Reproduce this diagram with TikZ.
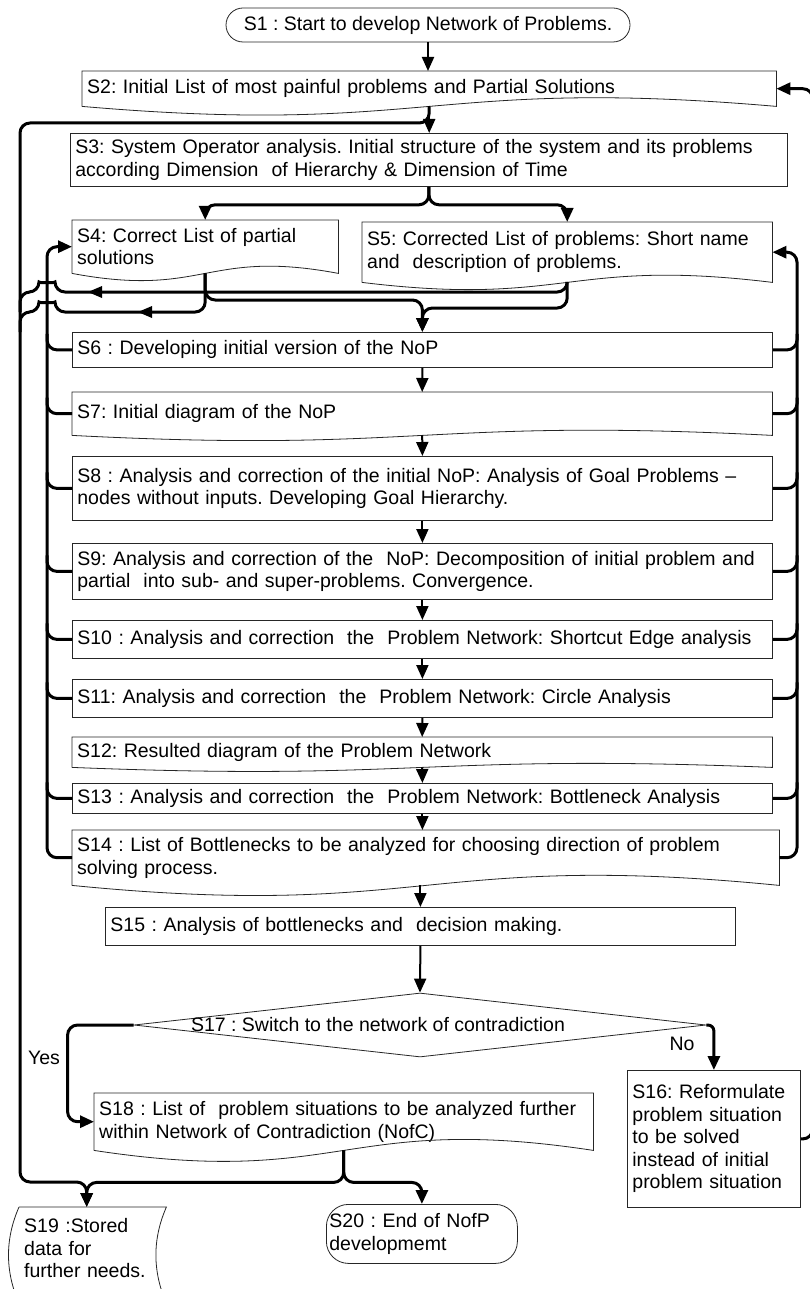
\documentclass[tikz,border=0pt]{standalone}
\usepackage{fontspec}
\setmainfont{Liberation Sans}
\usetikzlibrary{arrows.meta,calc,shapes.geometric}
\newcommand{\docshape}[2]{%
  \draw[boxline] (#1.south west) -- (#1.north west) -- (#1.north east) -- (#1.south east)
    .. controls ($(#1.south)+(0,-#2)$) and ($(#1.south)+(0,#2)$) .. (#1.south west);}
\newcommand{\tline}[1]{\mbox{#1}}
\begin{document}
\frenchspacing
\begin{tikzpicture}[x=1pt,y=-1pt,
  txt/.style={font=\fontsize{19.5pt}{22.5pt}\selectfont,execute at begin node={\frenchspacing}},
  boxline/.style={draw=black!85,line width=0.8pt},
  box/.style={txt,boxline,rectangle,anchor=north west,inner xsep=5pt,inner ysep=0pt,align=left},
  docbox/.style={txt,rectangle,anchor=north west,inner xsep=5pt,inner ysep=0pt,align=left},
  flow/.style={line width=2pt,-{Triangle[length=14pt,width=12pt]}},
  loop/.style={line width=3pt,rounded corners=10pt},
  loopar/.style={loop,-{Triangle[length=14pt,width=12pt]}}]
\useasboundingbox (0,0) rectangle (809,1289);
\fill[white] (0,0) rectangle (809,1289);

% ---------- nodes ----------
\node[txt,boxline,rounded corners=17pt,minimum width=404pt,minimum height=34pt,inner sep=0pt] (s1) at (428,25) {S1 : Start to develop Network of Problems.};
\node[docbox,text width=684pt,minimum height=35pt] (s2) at (82,71) {\tline{S2: Initial List of most painful problems and Partial Solutions}};
\docshape{s2}{30}
\node[box,text width=707pt,minimum height=53pt] (s3) at (70,133) {\tline{S3: System Operator analysis. Initial structure of the system and its problems}\\\tline{according Dimension~ of Hierarchy \& Dimension of Time}};
\node[docbox,text width=256pt,minimum height=53pt] (s4) at (72,220) {\tline{S4: Correct List of partial}\\solutions};
\docshape{s4}{25}
\node[docbox,text width=400pt,minimum height=60pt] (s5) at (362,222) {\tline{S5: Corrected List of problems: Short name}\\\tline{and~ description of problems.}};
\docshape{s5}{25}
\node[box,text width=690pt,minimum height=35pt] (s6) at (72,332) {\tline{S6 : Developing initial version of the NoP}};
\node[docbox,text width=690pt,minimum height=43pt] (s7) at (72,392) {\tline{S7: Initial diagram of the NoP}};
\docshape{s7}{18}
\node[box,text width=690pt,minimum height=64pt] (s8) at (72,456) {\tline{S8 : Analysis and correction of the initial NoP: Analysis of Goal Problems –}\\\tline{nodes without inputs. Developing Goal Hierarchy.}};
\node[box,text width=690pt,minimum height=56pt] (s9) at (72,543) {\tline{S9: Analysis and correction of the~ NoP: Decomposition of initial problem and}\\\tline{partial~ into sub- and super-problems. Convergence.}};
\node[box,text width=690pt,minimum height=38pt] (s10) at (72,620) {\tline{S10 : Analysis and correction~ the~ Problem Network: Shortcut Edge analysis}};
\node[box,text width=690pt,minimum height=38pt] (s11) at (72,679) {\tline{S11: Analysis and correction~ the~ Problem Network: Circle Analysis}};
\node[docbox,text width=690pt,minimum height=30pt] (s12) at (72,737) {\tline{S12: Resulted diagram of the Problem Network}};
\docshape{s12}{14}
\node[box,text width=690pt,minimum height=30pt] (s13) at (72,783) {\tline{S13 : Analysis and correction~ the~ Problem Network: Bottleneck Analysis}};
\node[docbox,text width=697pt,minimum height=55pt] (s14) at (72,830) {\tline{S14 : List of Bottlenecks to be analyzed for choosing direction of problem}\\\tline{solving process.}};
\docshape{s14}{35}
\node[box,text width=620pt,minimum height=38pt] (s15) at (105,907) {\tline{S15 : Analysis of bottlenecks and~ decision making.}};
\node[diamond,boxline,minimum width=572pt,minimum height=64pt,inner sep=0pt] (s17) at (420,1025) {};
\node[txt,inner sep=0pt] (s17t) at ($(s17.center)+(-42,0)$) {S17 : Switch to the network of contradiction};
\node[box,text width=163pt,minimum height=137pt] (s16) at (627,1070) {\tline{S16: Reformulate}\\\tline{problem situation}\\\tline{to be solved}\\\tline{instead of initial}\\\tline{problem situation}};
\node[docbox,text width=489pt,minimum height=57pt] (s18) at (94,1093) {\tline{S18 : List of~ problem situations to be analyzed further}\\\tline{within Network of Contradiction (NofC)}};
\docshape{s18}{38}
\node[docbox,text width=137pt,minimum height=82pt] (s19) at (19,1207) {\tline{S19 :Stored}\\\tline{data for}\\\tline{further needs.}};
\draw[boxline] (s19.north west) -- (s19.north east)
  .. controls ($(s19.north east)+(-14,32)$) and ($(s19.north east)+(-14,64)$) .. ($(s19.south east)+(0,14)$)
  -- ($(s19.south west)+(0,14)$)
  .. controls ($(s19.north west)+(-14,64)$) and ($(s19.north west)+(-14,32)$) .. (s19.north west);
\node[txt,boxline,rounded corners=22pt,minimum width=191pt,minimum height=59pt,text width=185pt,inner xsep=3pt,inner ysep=0pt,align=left,anchor=north west] (s20) at (326,1204) {\tline{S20 : End of NofP}\\\tline{developmemt}};
\node[txt,inner sep=0pt] (no) at (682,1044) {No};
\node[txt,inner sep=0pt] (yes) at (44,1058) {Yes};

% ---------- helper coordinates ----------
\coordinate (lv) at (47,0);
\coordinate (rv) at (797,0);
\coordinate (oL) at (20,123);
\coordinate (oLb) at (20,1182);
\coordinate (s19in) at ($(s19.north)+(-6,0)$);
\coordinate (j3) at ($(s3.south)+(0,18)$);
\coordinate (j18) at ($(s18.south)+(0,32)$);

% ---------- main flow ----------
\draw[flow] (s1.south) -- (s1.south |- s2.north);
\draw[flow] (s2.south) -- (s2.south |- s3.north);
\draw[loopar] (s3.south) -- (j3) -| (s4.north);
\draw[loopar] (s3.south) -- (j3) -| (s5.north);
\draw[loopar] (s4.south) |- ($(s6.north)+(0,-32)$) -- (s6.north);
\draw[loopar] (s5.south) |- ($(s6.north)+(0,-24)$) -- (s6.north);
\draw[flow] (s6.south) -- (s7.north);
\draw[flow] (s7.south) -- (s8.north);
\draw[flow] (s8.south) -- (s9.north);
\draw[flow] (s9.south) -- (s10.north);
\draw[flow] (s10.south) -- (s11.north);
\draw[flow] (s11.south) -- (s12.north);
\draw[flow] (s12.south) -- (s13.north);
\draw[flow] (s13.south) -- (s13.south |- s14.north);
\draw[flow] (s15.north |- s14.south) -- (s15.north);
\draw[flow] (s15.south) -- (s17.north);
\draw[loopar,rounded corners=6pt] (s17.east) -| (s16.north);
\draw[loopar] (s17.west) -- ++(-66,0) |- (s18.west);
\draw[loopar] (s18.south) -- (j18) -| (s19in);
\draw[loopar] (s18.south) -- (j18) -| (s20.north);
\draw[loopar] (s16.east) -- ++(12,0) |- (s2.east);

% ---------- outer storage line ----------
\draw[loopar] (s2.south) |- (oL) -- (oLb) -| (s19in);
\draw[loop] (s5.south) |- (55,292) .. controls (55,283) and (39,283) .. (39,292) -- (20,292) -- (20,312);
\draw[loop] (s4.south) |- (55,312) .. controls (55,303) and (39,303) .. (39,312) -- (20,312) -- (20,332);
\fill (88,292) -- (102,286) -- (102,298) -- cycle;
\fill (138,312) -- (152,306) -- (152,318) -- cycle;

% ---------- left feedback to S4 ----------
\draw[loopar] (s14.west) -| (lv |- s4.west) -- (s4.west);
\foreach \nd in {s6,s7,s8,s9,s10,s11,s13}
  \draw[loop] (\nd.west) -| ($(lv |- \nd.west)+(0,-16)$);

% ---------- right feedback to S5 ----------
\draw[loopar] (s14.east) -| (rv |- s5.east) -- (s5.east);
\foreach \nd in {s6,s7,s8,s9,s10,s11,s13}
  \draw[loop] (\nd.east) -| ($(rv |- \nd.east)+(0,-16)$);
\end{tikzpicture}
\end{document}
